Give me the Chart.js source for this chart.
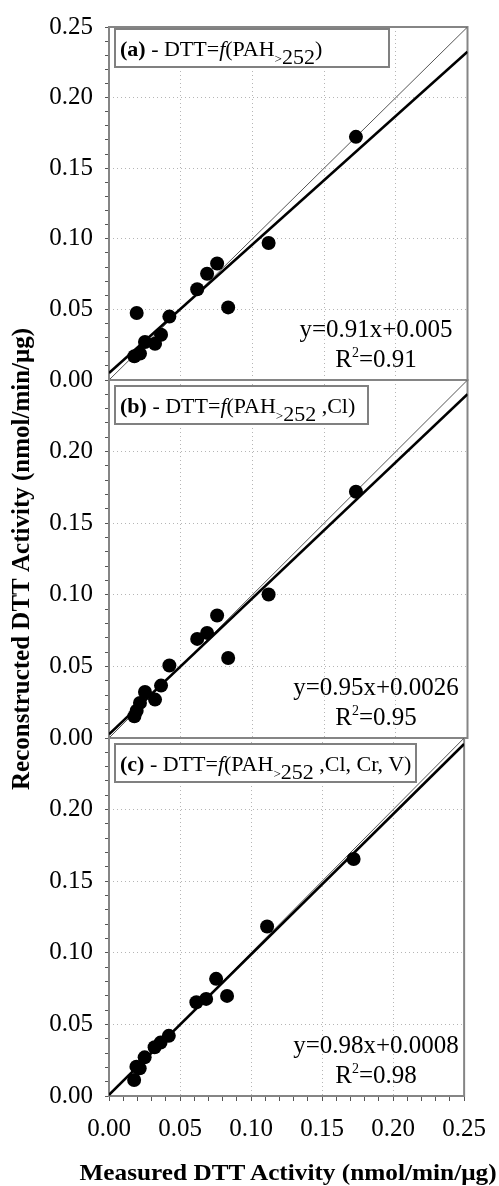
<!DOCTYPE html>
<html>
<head>
<meta charset="utf-8">
<script src="https://cdn.jsdelivr.net/npm/chart.js@4"></script>
<style>
body{margin:0;background:#fff;width:499px;height:1186px;position:relative;overflow:hidden;font-family:"Liberation Serif","Times New Roman",serif;}
canvas{position:absolute;left:0;top:0;}
.box{position:absolute;left:114px;height:40px;box-sizing:border-box;border:2px solid #808080;background:#fff;
  font-size:22px;line-height:37px;padding-left:4px;white-space:nowrap;color:#000;}
.box .gt{font-size:13px;vertical-align:-7px;line-height:0;}
.box .sb{font-size:22px;vertical-align:-8px;line-height:0;}
.eq{position:absolute;left:280px;width:192px;text-align:center;font-size:25px;line-height:30px;color:#000;white-space:nowrap;}
.eq sup{font-size:14px;vertical-align:10px;line-height:0;}
#xtitle{position:absolute;left:0;width:576px;top:1158px;text-align:center;line-height:28px;}
#xtitle span{display:inline-block;font-size:24px;font-weight:bold;white-space:nowrap;color:#000;}
</style>
</head>
<body>
<canvas id="chartA" width="499" height="1186"></canvas>
<canvas id="chartB" width="499" height="1186"></canvas>
<canvas id="chartC" width="499" height="1186"></canvas>

<div class="box" style="top:28px;width:276px;"><b>(a)</b> - DTT=<i>f</i>(PAH<span class="gt">&gt;</span><span class="sb">252</span>)</div>
<div class="box" style="top:385px;width:255px;"><b>(b)</b> - DTT=<i>f</i>(PAH<span class="gt">&gt;</span><span class="sb">252</span> ,Cl)</div>
<div class="box" style="top:743px;width:303px;"><b>(c)</b> - DTT=<i>f</i>(PAH<span class="gt">&gt;</span><span class="sb">252</span> ,Cl, Cr, V)</div>

<div class="eq" style="top:314px;">y=0.91x+0.005<br>R<sup>2</sup>=0.91</div>
<div class="eq" style="top:672px;">y=0.95x+0.0026<br>R<sup>2</sup>=0.95</div>
<div class="eq" style="top:1030px;">y=0.98x+0.0008<br>R<sup>2</sup>=0.98</div>

<div id="xtitle"><span>Measured DTT Activity (nmol/min/&mu;g)</span></div>

<script>
// measured DTT activity (same for every panel)
const measured = [0.1722, 0.1113, 0.0754, 0.0684, 0.0615, 0.0831, 0.0421, 0.0363, 0.0321, 0.0251, 0.0216, 0.0177, 0.0193];
// reconstructed DTT activity, one list per panel
const recA = [0.1722, 0.0970, 0.0825, 0.0752, 0.0643, 0.0514, 0.0449, 0.0320, 0.0257, 0.0269, 0.0187, 0.0168, 0.0474];
const recB = [0.1720, 0.1002, 0.0855, 0.0734, 0.0692, 0.0559, 0.0506, 0.0366, 0.0268, 0.0322, 0.0245, 0.0152, 0.0190];
const recC = [0.1655, 0.1184, 0.0818, 0.0678, 0.0655, 0.0699, 0.0420, 0.0373, 0.0340, 0.0270, 0.0193, 0.0112, 0.0205];
// regression lines
const slopes = [0.91, 0.95, 0.98];
const intercepts = [0.005, 0.0026, 0.0008];
const axisMin = 0, axisMax = 0.25;

const SERIF = "'Liberation Serif', 'Times New Roman', serif";

const frame = {
    id: 'frame',
    beforeDatasetsDraw(chart){
        const a = chart.chartArea, c = chart.ctx;
        c.save();
        c.strokeStyle = '#858585';
        c.lineWidth = 2;
        c.strokeRect(a.left, a.top, a.right - a.left, a.bottom - a.top);
        c.restore();
    }
};

function isMajor(v){ return Math.round(v * 100) % 5 === 0; }

function gridColor(ctx){
    const v = ctx.tick ? ctx.tick.value : 0;
    const k = Math.round(v * 100);
    if (k % 5 !== 0 || k === 0 || k === 25) return 'rgba(0,0,0,0)';
    return '#b5b5b5';
}

function makePanel(id, rec, i, opts){
    const points = measured.map((x, j) => ({x: x, y: rec[j]}));
    const fit = [
        {x: axisMin, y: slopes[i] * axisMin + intercepts[i]},
        {x: axisMax, y: slopes[i] * axisMax + intercepts[i]}
    ];
    const oneToOne = [{x: axisMin, y: axisMin}, {x: axisMax, y: axisMax}];

    return new Chart(document.getElementById(id).getContext('2d'), {
        type: 'scatter',
        data: {
            datasets: [
                {data: points, backgroundColor: '#000', borderWidth: 0, pointRadius: 7, order: 0},
                {type: 'line', data: fit, borderColor: '#000', borderWidth: 2.6, pointRadius: 0, order: 1},
                {type: 'line', data: oneToOne, borderColor: '#555', borderWidth: 1, pointRadius: 0, order: 2}
            ]
        },
        options: {
            responsive: false,
            animation: false,
            devicePixelRatio: 1,
            layout: {padding: {top: opts.top, bottom: opts.bottom, left: 8, right: 31.5}},
            plugins: {legend: {display: false}, tooltip: {enabled: false}},
            scales: {
                x: {
                    type: 'linear', min: axisMin, max: axisMax,
                    afterFit: s => { s.height = opts.xHeight; },
                    border: {display: false, dash: [1, 3]},
                    grid: {color: gridColor, drawTicks: opts.xLabels, tickLength: 5, tickColor: '#555'},
                    ticks: {
                        display: opts.xLabels, stepSize: 0.01, maxTicksLimit: 40, maxRotation: 0, autoSkip: false,
                        padding: 13, color: '#000', font: {family: SERIF, size: 25},
                        callback: v => isMajor(v) ? v.toFixed(2) : ''
                    }
                },
                y: {
                    type: 'linear', min: axisMin, max: axisMax,
                    afterFit: s => { s.width = 101; },
                    border: {display: false, dash: [1, 3]},
                    grid: {color: gridColor, tickLength: 4, tickColor: '#555'},
                    ticks: {
                        stepSize: 0.01, maxTicksLimit: 40, autoSkip: false, padding: 12,
                        color: '#000', font: {family: SERIF, size: 25},
                        callback: v => {
                            const k = Math.round(v * 100);
                            if (k % 5 !== 0) return '';
                            if (k === 25 && !opts.topLabel) return '';
                            return v.toFixed(2);
                        }
                    },
                    title: {
                        display: opts.yTitle, text: 'Reconstructed DTT Activity (nmol/min/\u03bcg)',
                        color: '#000', padding: 0, font: {family: SERIF, size: 25, weight: 'bold'}
                    }
                }
            }
        },
        plugins: [frame]
    });
}

makePanel('chartA', recA, 0, {top: 23.5, bottom: 806, xHeight: 0, xLabels: false, topLabel: true, yTitle: false});
makePanel('chartB', recB, 1, {top: 380, bottom: 448, xHeight: 0, xLabels: false, topLabel: false, yTitle: true});
makePanel('chartC', recC, 2, {top: 738, bottom: 0, xHeight: 90, xLabels: true, topLabel: false, yTitle: false});

// the original x title is drawn wide; stretch it to the same span
const xt = document.querySelector('#xtitle span');
xt.style.transform = 'scaleX(' + (417 / xt.offsetWidth) + ')';
</script>
</body>
</html>
